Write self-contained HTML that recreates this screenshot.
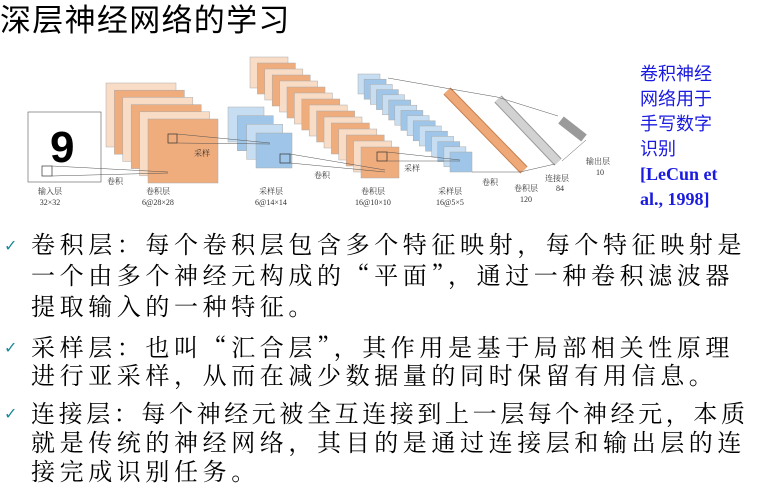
<!DOCTYPE html>
<html><head><meta charset="utf-8"><style>
html,body{margin:0;padding:0;background:#fff;width:771px;height:492px;overflow:hidden;position:relative}
.t{position:absolute;left:0;top:-5px;font:31px "Liberation Sans","Noto Sans CJK SC",sans-serif;letter-spacing:1.3px;color:#000;white-space:nowrap}
.b{position:absolute;left:640px;top:62px;color:#1a1ae0;font:18px "Liberation Sans","Noto Sans CJK SC",sans-serif;line-height:25px}
.b .r{font:bold 18px "Liberation Serif",serif}
.p{position:absolute;left:31px;font:24px "Noto Serif CJK SC",serif;letter-spacing:4.6px;line-height:30px;color:#000;white-space:nowrap}
.ck{position:absolute;left:4px;color:#1a8a9a;font:16px "DejaVu Sans",sans-serif}
</style></head><body>
<div class="t">深层神经网络的学习</div>
<svg width="771" height="230" style="position:absolute;left:0;top:0" font-family="Liberation Serif,Noto Serif CJK SC,serif" font-size="8" fill="#333">
<rect x="28" y="112" width="73" height="70" fill="#fff" stroke="#555" stroke-width="0.6"/>
<text x="50" y="162" font-size="44" font-weight="bold" fill="#000" font-family="Liberation Sans,sans-serif">9</text>
<rect x="42" y="166" width="10" height="10" fill="none" stroke="#333" stroke-width="0.7"/>
<g stroke="#aaa" stroke-width="0.5">
<rect x="106" y="83" width="70" height="64" fill="#f9dcc6"/>
<rect x="114.4" y="90.2" width="70" height="64" fill="#efac7c"/>
<rect x="122.8" y="97.4" width="70" height="64" fill="#f9dcc6"/>
<rect x="131.2" y="104.6" width="70" height="64" fill="#efac7c"/>
<rect x="139.6" y="111.8" width="70" height="64" fill="#f9dcc6"/>
<rect x="148" y="119" width="70" height="64" fill="#efac7c"/>
<rect x="228" y="107" width="36" height="35" fill="#c7def2"/>
<rect x="237.3" y="115.7" width="36" height="35" fill="#9fc6e8"/>
<rect x="246.7" y="124.3" width="36" height="35" fill="#c7def2"/>
<rect x="256" y="133" width="36" height="35" fill="#9fc6e8"/>
</g>
<g stroke="#aaa" stroke-width="0.5">
<rect x="250" y="57" width="38" height="31" fill="#f9dcc6"/>
<rect x="257.4" y="63" width="38" height="31" fill="#efac7c"/>
<rect x="264.8" y="69" width="38" height="31" fill="#f9dcc6"/>
<rect x="272.2" y="75" width="38" height="31" fill="#efac7c"/>
<rect x="279.6" y="81" width="38" height="31" fill="#f9dcc6"/>
<rect x="287" y="87" width="38" height="31" fill="#efac7c"/>
<rect x="294.4" y="93" width="38" height="31" fill="#f9dcc6"/>
<rect x="301.8" y="99" width="38" height="31" fill="#efac7c"/>
<rect x="309.2" y="105" width="38" height="31" fill="#f9dcc6"/>
<rect x="316.6" y="111" width="38" height="31" fill="#efac7c"/>
<rect x="324" y="117" width="38" height="31" fill="#f9dcc6"/>
<rect x="331.4" y="123" width="38" height="31" fill="#efac7c"/>
<rect x="338.8" y="129" width="38" height="31" fill="#f9dcc6"/>
<rect x="346.2" y="135" width="38" height="31" fill="#efac7c"/>
<rect x="353.6" y="141" width="38" height="31" fill="#f9dcc6"/>
<rect x="361" y="147" width="38" height="31" fill="#efac7c"/>
</g>
<g stroke="#aaa" stroke-width="0.5">
<rect x="358" y="74" width="22" height="20" fill="#c7def2"/>
<rect x="364.1" y="79.2" width="22" height="20" fill="#9fc6e8"/>
<rect x="370.3" y="84.4" width="22" height="20" fill="#c7def2"/>
<rect x="376.4" y="89.6" width="22" height="20" fill="#9fc6e8"/>
<rect x="382.5" y="94.8" width="22" height="20" fill="#c7def2"/>
<rect x="388.7" y="100" width="22" height="20" fill="#9fc6e8"/>
<rect x="394.8" y="105.2" width="22" height="20" fill="#c7def2"/>
<rect x="400.9" y="110.4" width="22" height="20" fill="#9fc6e8"/>
<rect x="407.1" y="115.6" width="22" height="20" fill="#c7def2"/>
<rect x="413.2" y="120.8" width="22" height="20" fill="#9fc6e8"/>
<rect x="419.3" y="126" width="22" height="20" fill="#c7def2"/>
<rect x="425.5" y="131.2" width="22" height="20" fill="#9fc6e8"/>
<rect x="431.6" y="136.4" width="22" height="20" fill="#c7def2"/>
<rect x="437.7" y="141.6" width="22" height="20" fill="#9fc6e8"/>
<rect x="443.9" y="146.8" width="22" height="20" fill="#c7def2"/>
<rect x="450" y="152" width="22" height="20" fill="#9fc6e8"/>
</g>
<line x1="447" y1="91" x2="524" y2="170" stroke="#c48050" stroke-width="10"/>
<line x1="447" y1="91" x2="524" y2="170" stroke="#efa877" stroke-width="8"/>
<line x1="498" y1="99" x2="558" y2="162" stroke="#999" stroke-width="10"/>
<line x1="498" y1="99" x2="558" y2="162" stroke="#d2d2d2" stroke-width="8"/>
<line x1="561" y1="120" x2="584" y2="138" stroke="#9a9a9a" stroke-width="9"/>
<g fill="none" stroke="#333" stroke-width="0.7">
<rect x="168" y="134" width="9" height="9"/>
<rect x="280" y="154" width="10" height="9"/>
<rect x="377" y="152" width="10" height="9"/>
</g>
<g stroke="#555" stroke-width="0.5" fill="none">
<path d="M52 166L168 172M52 176L168 173"/>
<path d="M177 134L270 143M177 143L270 144"/>
<path d="M290 154L385 170M290 163L385 172"/>
<path d="M387 152L460 160M387 161L460 161"/>
<path d="M388 78L445 88L497 97L558 116M472 172L520 172L555 164M562 161L586 140"/>
</g>
<g text-anchor="middle">
<text x="50" y="194">输入层</text><text x="50" y="205">32×32</text>
<text x="115" y="184">卷积</text>
<text x="158" y="194">卷积层</text><text x="158" y="205">6@28×28</text>
<text x="202" y="156">采样</text>
<text x="271" y="194">采样层</text><text x="271" y="205">6@14×14</text>
<text x="322" y="178">卷积</text>
<text x="373" y="194">卷积层</text><text x="373" y="205">16@10×10</text>
<text x="412" y="171">采样</text>
<text x="450" y="194">采样层</text><text x="450" y="205">16@5×5</text>
<text x="490" y="185">卷积</text>
<text x="526" y="191">卷积层</text><text x="526" y="202">120</text>
<text x="557" y="181">连接层</text><text x="560" y="191">84</text>
<text x="598" y="164">输出层</text><text x="600" y="175">10</text>
</g>
</svg>
<div class="b">卷积神经<br>网络用于<br>手写数字<br>识别<br><span class="r">[LeCun et<br>al., 1998]</span></div>
<div class="ck" style="top:236px">✓</div>
<div class="ck" style="top:338px">✓</div>
<div class="ck" style="top:404px">✓</div>
<div class="p" style="top:227px;line-height:31px">卷积层：每个卷积层包含多个特征映射，每个特征映射是<br>一个由多个神经元构成的“平面”，通过一种卷积滤波器<br>提取输入的一种特征。</div>
<div class="p" style="top:332px;line-height:28px">采样层：也叫“汇合层”，其作用是基于局部相关性原理<br>进行亚采样，从而在减少数据量的同时保留有用信息。</div>
<div class="p" style="top:397px;line-height:29px"><span style="letter-spacing:3.6px">连接层：每个神经元被全互连接到上一层每个神经元，本质</span><br>就是传统的神经网络，其目的是通过连接层和输出层的连<br>接完成识别任务。</div>
</body></html>
